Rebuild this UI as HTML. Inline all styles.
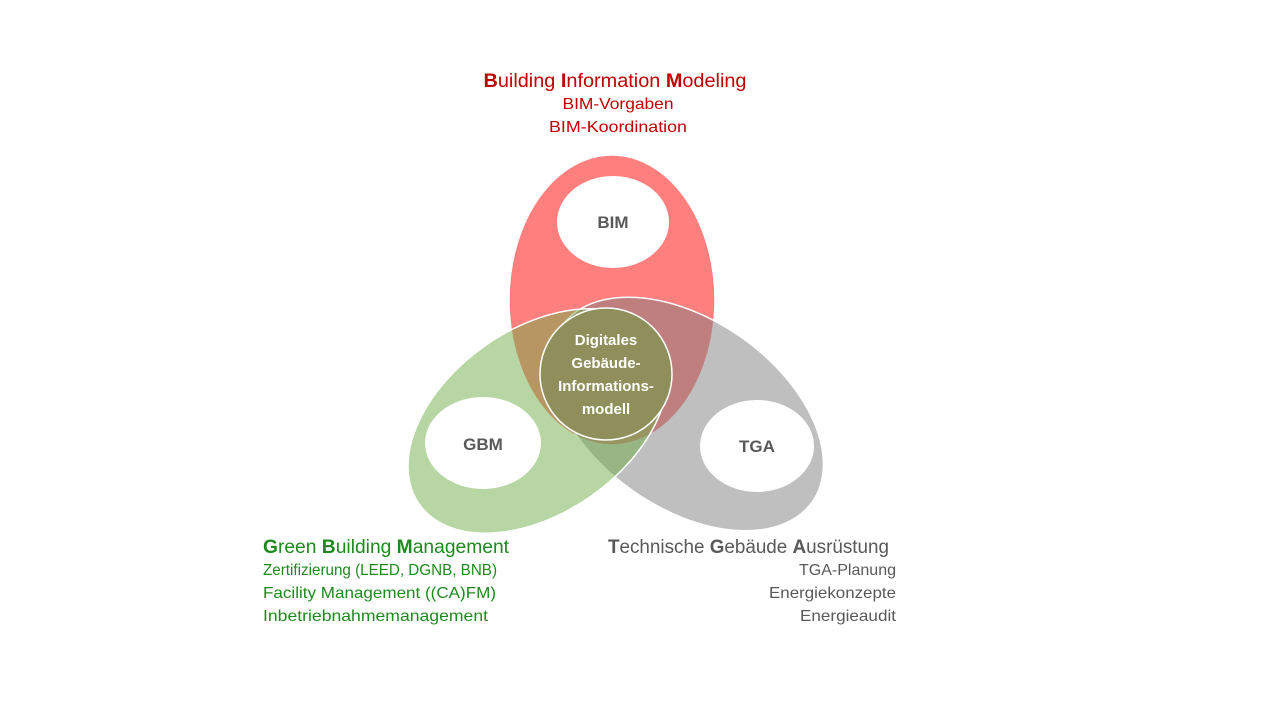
<!DOCTYPE html>
<html><head><meta charset="utf-8"><style>html,body{margin:0;padding:0;background:#fff}svg{display:block}</style></head>
<body>
<svg width="1280" height="720" viewBox="0 0 1280 720" font-family="Liberation Sans, sans-serif">
<rect width="1280" height="720" fill="#fff"/>
<ellipse cx="612" cy="300" rx="103" ry="145" fill="#ff7f7f" stroke="#fff" stroke-width="1.5"/>
<ellipse cx="687" cy="414" rx="153" ry="94" transform="rotate(35 687 414)" fill="#808080" fill-opacity="0.5" stroke="#fff" stroke-width="1.5"/>
<ellipse cx="538" cy="421" rx="145" ry="92" transform="rotate(-35 538 421)" fill="#70ad47" fill-opacity="0.5" stroke="#fff" stroke-width="1.5"/>
<circle cx="606" cy="374" r="66" fill="#8e8f5a" stroke="#fff" stroke-width="1.5"/>
<ellipse cx="613" cy="222" rx="56" ry="46" fill="#fff"/>
<ellipse cx="483" cy="443" rx="58" ry="46" fill="#fff"/>
<ellipse cx="757" cy="446" rx="57" ry="46" fill="#fff"/>
<g font-weight="bold" font-size="17" fill="#595959" text-anchor="middle">
<text x="613" y="228">BIM</text>
<text x="483" y="450">GBM</text>
<text x="757" y="452">TGA</text>
</g>
<g font-weight="bold" font-size="15" fill="#fff" text-anchor="middle">
<text x="606" y="345">Digitales</text>
<text x="606" y="368">Gebäude-</text>
<text x="606" y="391">Informations-</text>
<text x="606" y="414">modell</text>
</g>
<g fill="#c00000" text-anchor="middle">
<text x="615" y="87" font-size="19" textLength="263" lengthAdjust="spacingAndGlyphs"><tspan font-weight="bold">B</tspan>uilding <tspan font-weight="bold">I</tspan>nformation <tspan font-weight="bold">M</tspan>odeling</text>
<text x="618" y="109" font-size="16" textLength="111" lengthAdjust="spacingAndGlyphs">BIM-Vorgaben</text>
<text x="618" y="132" font-size="16" textLength="138" lengthAdjust="spacingAndGlyphs">BIM-Koordination</text>
</g>
<g fill="#1e8a1e">
<text x="263" y="553" font-size="19" textLength="246" lengthAdjust="spacingAndGlyphs"><tspan font-weight="bold">G</tspan>reen <tspan font-weight="bold">B</tspan>uilding <tspan font-weight="bold">M</tspan>anagement</text>
<text x="263" y="575" font-size="16" textLength="234" lengthAdjust="spacingAndGlyphs">Zertifizierung (LEED, DGNB, BNB)</text>
<text x="263" y="598" font-size="16" textLength="233" lengthAdjust="spacingAndGlyphs">Facility Management ((CA)FM)</text>
<text x="263" y="621" font-size="16" textLength="225" lengthAdjust="spacingAndGlyphs">Inbetriebnahmemanagement</text>
</g>
<g fill="#595959">
<text x="608" y="553" font-size="19" textLength="281" lengthAdjust="spacingAndGlyphs"><tspan font-weight="bold">T</tspan>echnische <tspan font-weight="bold">G</tspan>ebäude <tspan font-weight="bold">A</tspan>usrüstung</text>
<g text-anchor="end" font-size="16">
<text x="896" y="575" textLength="97" lengthAdjust="spacingAndGlyphs">TGA-Planung</text>
<text x="896" y="598" textLength="127" lengthAdjust="spacingAndGlyphs">Energiekonzepte</text>
<text x="896" y="621" textLength="96" lengthAdjust="spacingAndGlyphs">Energieaudit</text>
</g>
</g>
</svg>
</body></html>
